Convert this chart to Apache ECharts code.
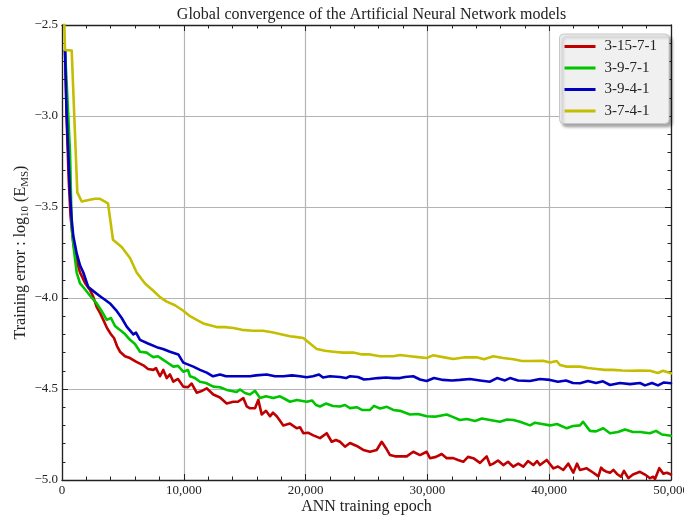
<!DOCTYPE html>
<html>
<head>
<meta charset="utf-8">
<script src="https://cdn.jsdelivr.net/npm/echarts@6/dist/echarts.min.js"></script>
<style>
  html, body { margin: 0; padding: 0; background: #fff; }
  #chart { width: 684px; height: 516px; }
</style>
</head>
<body>
<div id="chart"></div>
<script>
// Training error, log10(E_MS), recorded against training epoch for each network topology.
const seriesNames = ['3-15-7-1', '3-9-7-1', '3-9-4-1', '3-7-4-1'];
const xTicks = [0, 10000, 20000, 30000, 40000, 50000];
const yTicks = [-5.0, -4.5, -4.0, -3.5, -3.0, -2.5];

const err_3_15_7_1 = [
  [250,-2.64],[400,-3.05],[550,-3.35],[700,-3.55],[928,-3.70],[1149,-3.78],[1478,-3.86],[1888,-3.917],
  [2299,-3.956],[2545,-3.99],[2849,-4.05],[3120,-4.082],[3391,-4.12],[3695,-4.165],[4023,-4.20],[4269,-4.22],
  [4516,-4.264],[4762,-4.295],[5172,-4.32],[5583,-4.33],[6075,-4.35],[6675,-4.37],[7061,-4.39],[7496,-4.395],
  [7717,-4.385],[8046,-4.43],[8317,-4.395],[8596,-4.44],[8867,-4.42],[9138,-4.46],[9524,-4.445],[9959,-4.487],
  [10345,-4.49],[10648,-4.47],[11059,-4.52],[11412,-4.513],[11880,-4.496],[12422,-4.53],[12972,-4.547],[13522,-4.58],
  [14065,-4.57],[14450,-4.57],[14885,-4.55],[15164,-4.595],[15435,-4.606],[15845,-4.606],[16117,-4.56],[16396,-4.64],
  [16748,-4.62],[17077,-4.65],[17323,-4.63],[17627,-4.65],[17898,-4.675],[18168,-4.70],[18719,-4.69],[19269,-4.716],
  [19540,-4.71],[19811,-4.743],[20196,-4.74],[20632,-4.755],[21182,-4.77],[21731,-4.743],[22142,-4.79],[22495,-4.78],
  [22824,-4.79],[23234,-4.817],[23645,-4.797],[24195,-4.813],[24737,-4.835],[25287,-4.845],[25836,-4.835],[26247,-4.79],
  [26600,-4.825],[26929,-4.863],[27339,-4.87],[27750,-4.87],[28300,-4.87],[28841,-4.845],[29392,-4.863],[29942,-4.845],
  [30213,-4.88],[30705,-4.873],[31173,-4.857],[31584,-4.88],[32126,-4.88],[32512,-4.89],[32947,-4.90],[33333,-4.873],
  [33768,-4.88],[34318,-4.906],[34867,-4.87],[35139,-4.918],[35410,-4.91],[35796,-4.893],[36231,-4.918],[36617,-4.90],
  [37052,-4.927],[37462,-4.91],[37873,-4.927],[38259,-4.896],[38694,-4.918],[38998,-4.896],[39244,-4.918],[39794,-4.89],
  [40343,-4.936],[40722,-4.926],[41157,-4.945],[41568,-4.91],[41978,-4.96],[42282,-4.91],[42528,-4.945],[43078,-4.936],
  [43627,-4.96],[44039,-4.98],[44261,-4.932],[44441,-4.945],[44662,-4.953],[44991,-4.96],[45269,-4.945],[45565,-4.967],
  [45894,-4.982],[46140,-4.95],[46493,-4.99],[46879,-4.97],[47454,-4.955],[47864,-4.97],[48275,-4.99],[48546,-4.982],
  [48685,-4.995],[49039,-4.935],[49367,-4.965],[49670,-4.96],[50000,-4.97]
];

const err_3_9_7_1 = [
  [250,-2.64],[493,-2.97],[657,-3.20],[796,-3.61],[985,-3.74],[1207,-3.86],[1478,-3.92],[1806,-3.945],
  [2159,-3.975],[2463,-4.00],[2849,-4.03],[3202,-4.066],[3670,-4.12],[4023,-4.11],[4351,-4.154],[4762,-4.176],
  [5172,-4.198],[5583,-4.23],[5993,-4.253],[6404,-4.295],[6954,-4.30],[7225,-4.313],[7496,-4.325],[7882,-4.32],
  [8316,-4.34],[8703,-4.357],[9138,-4.377],[9524,-4.373],[9959,-4.405],[10345,-4.396],[10509,-4.43],[10919,-4.44],
  [11330,-4.46],[11822,-4.467],[12422,-4.487],[12972,-4.49],[13522,-4.505],[14343,-4.516],[14614,-4.503],[15024,-4.522],
  [15435,-4.53],[15845,-4.51],[16256,-4.55],[16748,-4.54],[17348,-4.55],[17898,-4.54],[18308,-4.555],[18719,-4.57],
  [19294,-4.56],[20090,-4.57],[20525,-4.563],[20853,-4.588],[21182,-4.596],[21674,-4.58],[22249,-4.593],[22824,-4.596],
  [23234,-4.588],[23645,-4.605],[24195,-4.60],[24630,-4.615],[25287,-4.615],[25615,-4.593],[26108,-4.607],[26682,-4.598],
  [27200,-4.615],[27750,-4.62],[28571,-4.64],[29228,-4.637],[29942,-4.65],[30623,-4.652],[31584,-4.64],[32019,-4.652],
  [32676,-4.67],[33251,-4.665],[33908,-4.676],[34482,-4.662],[35139,-4.67],[35960,-4.68],[36535,-4.668],[37052,-4.67],
  [37602,-4.68],[38423,-4.70],[38834,-4.685],[39408,-4.692],[40065,-4.70],[40640,-4.692],[41436,-4.716],[41953,-4.703],
  [42528,-4.70],[42775,-4.68],[43349,-4.73],[43841,-4.733],[44441,-4.716],[44991,-4.743],[45647,-4.736],[46222,-4.722],
  [46879,-4.736],[47454,-4.736],[48275,-4.743],[48767,-4.73],[49260,-4.75],[50000,-4.757]
];

const err_3_9_4_1 = [
  [250,-2.64],[370,-2.97],[517,-3.205],[657,-3.425],[796,-3.57],[928,-3.66],[1207,-3.755],[1478,-3.82],
  [1749,-3.86],[2159,-3.94],[2627,-3.965],[3120,-3.99],[3530,-4.01],[3941,-4.03],[4433,-4.066],[4901,-4.11],
  [5312,-4.157],[5854,-4.20],[6075,-4.19],[6404,-4.23],[7061,-4.25],[7775,-4.27],[8292,-4.28],[8867,-4.295],
  [9548,-4.31],[9959,-4.355],[10780,-4.377],[11330,-4.395],[11880,-4.41],[12397,-4.43],[12972,-4.42],[13464,-4.43],
  [14065,-4.43],[14614,-4.43],[15435,-4.43],[15927,-4.425],[16806,-4.42],[17487,-4.43],[18168,-4.43],[18883,-4.425],
  [19540,-4.43],[20090,-4.435],[20607,-4.43],[21100,-4.42],[21428,-4.437],[22003,-4.43],[22824,-4.434],[23316,-4.44],
  [23645,-4.43],[24302,-4.434],[24794,-4.448],[25287,-4.445],[25944,-4.44],[26600,-4.437],[27200,-4.44],[27750,-4.44],
  [28160,-4.434],[28841,-4.43],[29392,-4.448],[29942,-4.456],[30541,-4.44],[31280,-4.45],[32019,-4.453],[32676,-4.45],
  [33497,-4.445],[34318,-4.453],[35139,-4.46],[35714,-4.44],[36370,-4.453],[36781,-4.44],[37438,-4.453],[38423,-4.456],
  [39244,-4.445],[40065,-4.45],[40722,-4.46],[41378,-4.453],[41953,-4.467],[42528,-4.468],[43185,-4.456],[43841,-4.467],
  [44416,-4.458],[44991,-4.478],[45812,-4.467],[46633,-4.473],[47454,-4.467],[47864,-4.48],[48439,-4.467],[48932,-4.48],
  [49424,-4.464],[50000,-4.468]
];

const err_3_7_4_1 = [
  [0,-2.0],[246,-2.637],[796,-2.64],[1256,-3.42],[1617,-3.47],[2299,-3.46],[2709,-3.455],[3120,-3.455],
  [3777,-3.48],[4187,-3.68],[4901,-3.72],[5583,-3.78],[6133,-3.86],[6814,-3.92],[7496,-3.96],[8046,-3.995],
  [8596,-4.02],[9277,-4.04],[9959,-4.07],[10509,-4.10],[11059,-4.12],[11600,-4.14],[12151,-4.15],[12700,-4.16],
  [13382,-4.16],[14065,-4.165],[14778,-4.175],[15681,-4.18],[16502,-4.18],[17348,-4.19],[18062,-4.20],[18719,-4.21],
  [19294,-4.215],[19811,-4.22],[20361,-4.25],[20911,-4.28],[21592,-4.29],[22274,-4.295],[23070,-4.30],[23916,-4.30],
  [24630,-4.31],[25287,-4.31],[26108,-4.32],[27200,-4.32],[27750,-4.313],[28571,-4.32],[29228,-4.325],[29942,-4.33],
  [30459,-4.315],[31280,-4.325],[32126,-4.335],[33086,-4.326],[34047,-4.326],[34646,-4.337],[35410,-4.32],[36206,-4.33],
  [37052,-4.337],[37766,-4.346],[38423,-4.346],[39490,-4.345],[40065,-4.355],[40615,-4.346],[40886,-4.368],[41436,-4.377],
  [42530,-4.377],[43185,-4.385],[43899,-4.39],[44580,-4.395],[45237,-4.395],[45976,-4.398],[46797,-4.40],[47454,-4.398],
  [48275,-4.40],[48932,-4.412],[49342,-4.40],[50000,-4.414]
];

const seriesData = [err_3_15_7_1, err_3_9_7_1, err_3_9_4_1, err_3_7_4_1];
const seriesColors = ['#c00000', '#00c400', '#0000c0', '#c4bd00'];

const FONT = '"Liberation Serif", "DejaVu Serif", serif';
const INK = '#222222';

function thousands(v) {
  return String(Math.round(v)).replace(/\B(?=(\d{3})+(?!\d))/g, ',');
}
function minusFmt(v) {
  return (v < 0 ? '\u2212' : '') + Math.abs(v).toFixed(1);
}

const axisLine = { show: true, onZero: false, lineStyle: { color: INK, width: 1.3 } };
const majorTick = { show: true, inside: true, length: 6, lineStyle: { color: INK, width: 1 } };
const minorTick = { show: true, splitNumber: 5, length: 3.5, lineStyle: { color: INK, width: 1 } };
const gridLine = { show: true, lineStyle: { color: '#b4b4b4', width: 1.2 } };

const xMin = xTicks[0], xMax = xTicks[xTicks.length - 1];
const xStep = xTicks[1] - xTicks[0];
const yMin = yTicks[0], yMax = yTicks[yTicks.length - 1];
const yStep = yTicks[1] - yTicks[0];

const chart = echarts.init(document.getElementById('chart'), null, { renderer: 'canvas' });

chart.setOption({
  animation: false,
  backgroundColor: '#ffffff',
  title: {
    text: 'Global convergence of the Artificial Neural Network models',
    left: 366.5,
    textAlign: 'center',
    top: 2,
    textStyle: { fontFamily: FONT, fontSize: 16, fontWeight: 'normal', color: INK }
  },
  grid: { left: 62, right: 13, top: 25, bottom: 36, containLabel: false, outerBoundsMode: 'none' },
  legend: {
    data: seriesNames,
    orient: 'vertical',
    right: 15,
    top: 34,
    icon: 'rect',
    itemWidth: 31,
    itemHeight: 3,
    itemGap: 6.5,
    padding: [5, 12, 5, 5],
    backgroundColor: '#f0f0f0',
    borderColor: '#c8c8c8',
    borderWidth: 1,
    borderRadius: 4,
    shadowColor: 'rgba(0,0,0,0.35)',
    shadowBlur: 3,
    shadowOffsetX: 3,
    shadowOffsetY: 3,
    textStyle: { fontFamily: FONT, fontSize: 15, color: INK, padding: [0, 0, 0, 4] }
  },
  xAxis: [
    {
      type: 'value', position: 'bottom', min: xMin, max: xMax, interval: xStep,
      name: 'ANN training epoch', nameLocation: 'middle', nameGap: 19, nameMoveOverlap: false,
      nameTextStyle: { fontFamily: FONT, fontSize: 16, color: INK },
      axisLine: axisLine, axisTick: majorTick, minorTick: minorTick, splitLine: gridLine,
      axisLabel: { show: true, margin: 4, fontFamily: FONT, fontSize: 13, color: INK,
        showMinLabel: true, showMaxLabel: true, hideOverlap: false, formatter: thousands }
    },
    {
      type: 'value', position: 'top', min: xMin, max: xMax, interval: xStep,
      axisLine: axisLine, axisTick: majorTick, minorTick: minorTick,
      splitLine: { show: false }, axisLabel: { show: false }
    }
  ],
  yAxis: [
    {
      type: 'value', position: 'left', min: yMin, max: yMax, interval: yStep,
      name: '{a|Training error : log}{s|10}{a| (E}{s|MS}{a|)}',
      nameLocation: 'middle', nameGap: 31, nameMoveOverlap: false,
      nameTextStyle: {
        fontFamily: FONT, fontSize: 16, color: INK,
        rich: {
          a: { fontFamily: FONT, fontSize: 16, color: INK, lineHeight: 20 },
          s: { fontFamily: FONT, fontSize: 11, color: INK, lineHeight: 11, verticalAlign: 'bottom' }
        }
      },
      axisLine: axisLine, axisTick: majorTick, minorTick: minorTick, splitLine: gridLine,
      axisLabel: { show: true, margin: 4, fontFamily: FONT, fontSize: 13, color: INK,
        showMinLabel: true, showMaxLabel: true, hideOverlap: false, formatter: minusFmt }
    },
    {
      type: 'value', position: 'right', min: yMin, max: yMax, interval: yStep,
      axisLine: axisLine, axisTick: majorTick, minorTick: minorTick,
      splitLine: { show: false }, axisLabel: { show: false }
    }
  ],
  series: seriesNames.map((name, i) => ({
    name: name,
    type: 'line',
    xAxisIndex: 0,
    yAxisIndex: 0,
    data: seriesData[i],
    symbol: 'none',
    clip: true,
    color: seriesColors[i],
    lineStyle: { color: seriesColors[i], width: 2.6, cap: 'round', join: 'round' },
    z: 2 + i
  }))
});
</script>
</body>
</html>
